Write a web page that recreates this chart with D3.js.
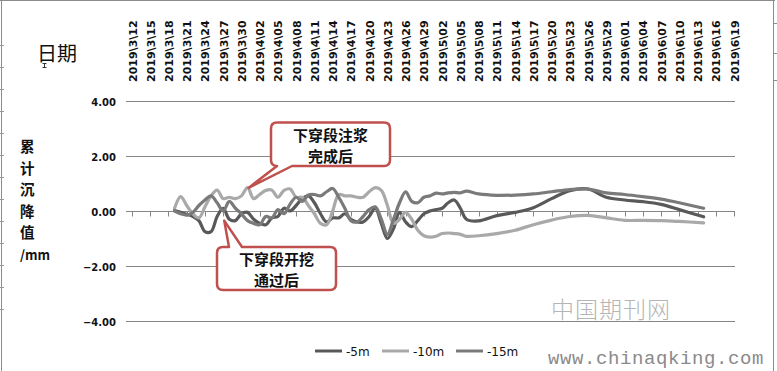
<!DOCTYPE html>
<html><head><meta charset="utf-8">
<script src="https://cdn.jsdelivr.net/npm/d3@7"></script>
<style>body{margin:0;background:#fff}svg{display:block}</style>
</head><body><svg id="c" width="777" height="371"></svg>
<script>
// ---- data ----
const dates = [
 "2019-03-19","2019-03-20","2019-03-21","2019-03-22","2019-03-23","2019-03-24","2019-03-25","2019-03-26","2019-03-27","2019-03-28",
 "2019-03-29","2019-03-30","2019-03-31","2019-04-01","2019-04-02","2019-04-03","2019-04-04","2019-04-05","2019-04-06","2019-04-07",
 "2019-04-08","2019-04-09","2019-04-10","2019-04-11","2019-04-12","2019-04-13","2019-04-14","2019-04-15","2019-04-16","2019-04-17",
 "2019-04-18","2019-04-19","2019-04-20","2019-04-21","2019-04-22","2019-04-23","2019-04-24","2019-04-25","2019-04-26","2019-04-27",
 "2019-04-28","2019-04-29","2019-04-30","2019-05-01","2019-05-02",
 "2019-05-03","2019-05-04","2019-05-05","2019-05-06","2019-05-08","2019-05-11","2019-05-14","2019-05-17","2019-05-20","2019-05-23",
 "2019-05-26","2019-05-29","2019-06-01","2019-06-04","2019-06-07","2019-06-10","2019-06-14"];
const values5m = [
 0.02,-0.05,-0.12,-0.2,-0.35,-0.75,-0.75,-0.2,0.1,-0.3,
 -0.35,-0.1,-0.05,-0.3,-0.45,-0.5,-0.25,-0.2,0.1,0.0,
 0.2,0.45,0.55,0.3,-0.1,-0.4,-0.25,-0.25,-0.1,-0.3,
 -0.4,-0.4,-0.2,0.1,-0.45,-1.0,-0.65,-0.05,-0.4,-0.57,
 -0.35,-0.1,0.0,0.05,0.1,
 0.3,0.4,0.1,-0.3,-0.36,-0.17,-0.05,0.12,0.45,0.74,
 0.8,0.5,0.4,0.34,0.24,0.05,-0.21];
const values10m = [
 0.1,0.52,0.2,-0.1,-0.25,0.15,0.55,0.76,0.45,0.5,
 0.45,0.55,0.85,0.45,0.6,0.75,0.76,0.5,0.75,0.8,
 0.5,0.5,0.2,-0.1,-0.45,-0.5,0.0,0.6,0.55,0.55,
 0.5,0.5,0.7,0.85,0.75,0.2,-0.45,-0.3,-0.05,-0.3,
 -0.7,-0.9,-0.95,-0.92,-0.82,
 -0.8,-0.82,-0.85,-0.92,-0.9,-0.82,-0.7,-0.5,-0.33,-0.2,
 -0.16,-0.25,-0.34,-0.34,-0.35,-0.38,-0.43];
const values15m = [
 0.0,-0.1,-0.15,-0.05,0.2,0.4,0.55,0.3,0.0,0.35,
 0.1,-0.1,-0.35,-0.45,-0.5,-0.2,-0.25,0.05,-0.1,0.25,
 0.5,0.35,0.58,0.6,0.55,0.7,0.82,0.5,0.1,-0.35,
 -0.4,-0.2,0.05,0.15,-0.3,-0.85,-0.3,0.3,0.7,0.35,
 0.3,0.5,0.55,0.65,0.62,
 0.66,0.68,0.66,0.72,0.62,0.57,0.58,0.62,0.7,0.78,
 0.8,0.66,0.6,0.52,0.43,0.3,0.1];
const seriesNames = ["-5m","-10m","-15m"];
const tickLabels = ["2019\\3\\12","2019\\3\\15","2019\\3\\18","2019\\3\\21","2019\\3\\24","2019\\3\\27","2019\\3\\30",
 "2019\\4\\02","2019\\4\\05","2019\\4\\08","2019\\4\\11","2019\\4\\14","2019\\4\\17","2019\\4\\20","2019\\4\\23","2019\\4\\26","2019\\4\\29",
 "2019\\5\\02","2019\\5\\05","2019\\5\\08","2019\\5\\11","2019\\5\\14","2019\\5\\17","2019\\5\\20","2019\\5\\23","2019\\5\\26","2019\\5\\29",
 "2019\\6\\01","2019\\6\\04","2019\\6\\07","2019\\6\\10","2019\\6\\13","2019\\6\\16","2019\\6\\19"];
const yTickValues = [4,2,0,-2,-4];
const annotations = [
 {lines:["下穿段注浆","完成后"], date:"2019-03-31", value:0.84},
 {lines:["下穿段开挖","通过后"], date:"2019-03-27", value:-0.35}
];

// ---- chart ----
const svg = d3.select("#c");
const parse = d3.timeParse("%Y-%m-%d");
const labelDate = s => { const p = s.split("\\"); return new Date(+p[0], +p[1]-1, +p[2]); };
const tickDates = tickLabels.map(labelDate);
const x = d3.scaleTime().domain([tickDates[0], tickDates[tickDates.length-1]]).range([132, 734]);
const y = d3.scaleLinear().domain([-4, 4]).range([321, 101]);
const colors = d3.scaleOrdinal().domain(seriesNames).range(["#595959","#a9a9a9","#7a7a7a"]);

// frame
svg.append("line").attr("x1",0).attr("x2",775).attr("y1",0.5).attr("y2",0.5).attr("stroke","#8c8c8c");
svg.append("line").attr("x1",1.5).attr("x2",1.5).attr("y1",0).attr("y2",371).attr("stroke","#8c8c8c");
svg.append("line").attr("x1",773.5).attr("x2",773.5).attr("y1",0).attr("y2",371).attr("stroke","#8c8c8c");
[23,53,80].forEach(v=>svg.append("line").attr("x1",773).attr("x2",777).attr("y1",v+0.5).attr("y2",v+0.5).attr("stroke","#8c8c8c"));
d3.range(45, 330, 22).forEach(v=>svg.append("line").attr("x1",0).attr("x2",4).attr("y1",v+0.5).attr("y2",v+0.5).attr("stroke","#9a9a9a"));

// gridlines and y labels
const g = svg.append("g");
yTickValues.forEach(v=>{
  const yy = Math.round(y(v))+0.5;
  g.append("line").attr("x1",130).attr("x2",735).attr("y1",yy).attr("y2",yy).attr("stroke","#868686").attr("stroke-width",1);
  g.append("line").attr("x1",126).attr("x2",130).attr("y1",yy).attr("y2",yy).attr("stroke","#868686");
  g.append("text").attr("x",116).attr("y",yy+4).attr("text-anchor","end")
   .attr("font-family","DejaVu Sans").attr("font-weight","bold").attr("font-size",10).attr("fill","#111")
   .text(d3.format(".2f")(v));
});
// x ticks on zero line
const y0 = Math.round(y(0))+0.5;
tickDates.forEach(d=>{
  const xx = Math.round(x(d))+0.5;
  g.append("line").attr("x1",xx).attr("x2",xx).attr("y1",y0).attr("y2",y0+5).attr("stroke","#868686");
});
// x labels at top
tickDates.forEach((d,i)=>{
  const xx = x(d)+4.5;
  svg.append("text").attr("transform",`translate(${xx},82) rotate(-90)`)
   .attr("font-family","DejaVu Sans").attr("font-weight","bold").attr("font-size",11).attr("fill","#111")
   .text(tickLabels[i]);
});

// series
const series = [values5m, values10m, values15m].map((vals,i)=>({name:seriesNames[i], pts:dates.map((d,j)=>({date:parse(d), v:vals[j]}))}));
const line = d3.line().x(p=>x(p.date)).y(p=>y(p.v)).curve(d3.curveCatmullRom.alpha(0.5));
svg.append("g").selectAll("path").data(series).join("path")
  .attr("d", s=>line(s.pts)).attr("fill","none").attr("stroke", s=>colors(s.name))
  .attr("stroke-width",3.2).attr("stroke-linejoin","round").attr("stroke-linecap","round");

// callouts
function callout(tip, box, side, base){
  const r = 6, [x0,y0b,x1,y1] = box;
  let p = `M${x0+r},${y0b}`;
  if(side==="top"){ p += `L${base[0]},${y0b}L${tip[0]},${tip[1]}L${base[1]},${y0b}`; }
  p += `L${x1-r},${y0b}Q${x1},${y0b} ${x1},${y0b+r}L${x1},${y1-r}Q${x1},${y1} ${x1-r},${y1}`;
  if(side==="bottom"){ p += `L${base[1]},${y1}L${tip[0]},${tip[1]}L${base[0]},${y1}`; }
  p += `L${x0+r},${y1}Q${x0},${y1} ${x0},${y1-r}L${x0},${y0b+r}Q${x0},${y0b} ${x0+r},${y0b}Z`;
  return p;
}
const a1 = annotations[0], t1 = [x(parse(a1.date))+1, y(a1.value)];
const b1 = [271, 122.5, 390, 166];
const a2 = annotations[1], t2 = [x(parse(a2.date))+1, y(a2.value)];
const b2 = [217, 247, 336, 290];
const cg = svg.append("g");
cg.append("path").attr("d", callout(t1, b1, "bottom", [277, 292])).attr("fill","#fff").attr("stroke","#c0504d").attr("stroke-width",2.5).attr("stroke-linejoin","round");
cg.append("path").attr("d", callout(t2, b2, "top", [229, 242])).attr("fill","#fff").attr("stroke","#c0504d").attr("stroke-width",2.5).attr("stroke-linejoin","round");
[[a1,b1],[a2,b2]].forEach(([a,b])=>{
  a.lines.forEach((ln,i)=>{
    cg.append("text").attr("x",(b[0]+b[2])/2).attr("y",b[1]+18+i*21).attr("text-anchor","middle")
     .attr("font-family","Noto Sans CJK SC").attr("font-weight","bold").attr("font-size",15).attr("fill","#111").text(ln);
  });
});

// titles
svg.append("text").attr("x",37).attr("y",61).attr("font-family","Noto Sans CJK SC").attr("font-size",20).attr("fill","#111").text("日期");
svg.append("line").attr("x1",44.5).attr("x2",44.5).attr("y1",63).attr("y2",68).attr("stroke","#333");
svg.append("line").attr("x1",42.5).attr("x2",46.5).attr("y1",63.5).attr("y2",63.5).attr("stroke","#333");
svg.append("line").attr("x1",42.5).attr("x2",46.5).attr("y1",67.5).attr("y2",67.5).attr("stroke","#333");
const ytitle = ["累","计","沉","降","值","/mm"];
ytitle.forEach((c,i)=>{
  svg.append("text").attr("x",20).attr("y",152+i*21.5).attr("font-family","Noto Sans CJK SC").attr("font-weight","bold")
   .attr("font-size", i<5?14.5:13).attr("fill","#111").text(c);
});

// legend
const lg = svg.append("g");
const legX = [315, 382, 456];
seriesNames.forEach((n,i)=>{
  lg.append("line").attr("x1",legX[i]).attr("x2",legX[i]+27).attr("y1",351).attr("y2",351).attr("stroke",colors(n)).attr("stroke-width",3);
  lg.append("text").attr("x",legX[i]+31).attr("y",355.5).attr("font-family","DejaVu Sans").attr("font-size",12).attr("fill","#111").text(n);
});

// watermark
svg.append("text").attr("x",551).attr("y",318).attr("font-family","Noto Sans CJK SC").attr("font-weight",300).attr("font-size",23).attr("fill","#b5b5b5").attr("letter-spacing",1).text("中国期刊网");
svg.append("text").attr("x",548).attr("y",364).attr("font-family","Liberation Mono").attr("font-size",19).attr("fill","#8a8a8a").attr("letter-spacing",0.6).text("www.chinaqking.com");
</script></body></html>
